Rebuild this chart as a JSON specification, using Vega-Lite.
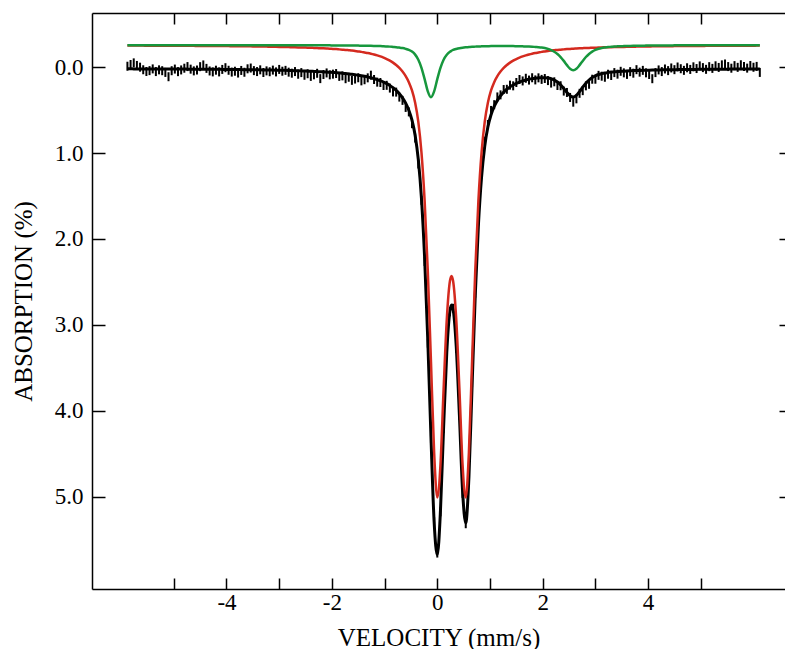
{
"$schema": "https://vega.github.io/schema/vega-lite/v6.json",
"width": 693, "height": 576,
"autosize": "none",
"padding": {"left": 92, "top": 13, "right": 0, "bottom": 60},
"config": {
 "view": {"stroke": null},
 "axis": {"grid": false, "domainColor": "#000", "domainWidth": 1.5, "tickColor": "#000", "tickWidth": 1.5, "labelColor": "#000", "titleColor": "#000", "labelFont": "Liberation Serif", "titleFont": "Liberation Serif", "labelFontSize": 23, "titleFontSize": 25, "titleFontWeight": "normal", "labelOverlap": false}
},
"data": {"values": [
{"v":-5.88,"fit":0.021,"obs":-0.009,"red":-0.249,"green":-0.254},
{"v":-5.82,"fit":0.021,"obs":-0.029,"red":-0.249,"green":-0.254},
{"v":-5.76,"fit":0.022,"obs":-0.048,"red":-0.249,"green":-0.254},
{"v":-5.70,"fit":0.022,"obs":-0.018,"red":-0.249,"green":-0.254},
{"v":-5.64,"fit":0.022,"obs":0.002,"red":-0.249,"green":-0.254},
{"v":-5.58,"fit":0.022,"obs":0.032,"red":-0.249,"green":-0.254},
{"v":-5.52,"fit":0.022,"obs":0.052,"red":-0.248,"green":-0.254},
{"v":-5.46,"fit":0.022,"obs":0.042,"red":-0.248,"green":-0.254},
{"v":-5.40,"fit":0.022,"obs":0.022,"red":-0.248,"green":-0.254},
{"v":-5.34,"fit":0.023,"obs":0.053,"red":-0.248,"green":-0.254},
{"v":-5.28,"fit":0.023,"obs":0.033,"red":-0.248,"green":-0.254},
{"v":-5.22,"fit":0.023,"obs":0.043,"red":-0.248,"green":-0.254},
{"v":-5.16,"fit":0.023,"obs":0.063,"red":-0.248,"green":-0.254},
{"v":-5.10,"fit":0.023,"obs":0.113,"red":-0.248,"green":-0.254},
{"v":-5.04,"fit":0.023,"obs":0.043,"red":-0.247,"green":-0.254},
{"v":-4.98,"fit":0.024,"obs":0.024,"red":-0.247,"green":-0.254},
{"v":-4.92,"fit":0.024,"obs":0.054,"red":-0.247,"green":-0.254},
{"v":-4.86,"fit":0.024,"obs":0.034,"red":-0.247,"green":-0.254},
{"v":-4.80,"fit":0.024,"obs":0.014,"red":-0.246,"green":-0.254},
{"v":-4.74,"fit":0.025,"obs":-0.005,"red":-0.246,"green":-0.254},
{"v":-4.68,"fit":0.025,"obs":0.025,"red":-0.246,"green":-0.254},
{"v":-4.62,"fit":0.025,"obs":0.045,"red":-0.246,"green":-0.254},
{"v":-4.56,"fit":0.025,"obs":0.035,"red":-0.245,"green":-0.254},
{"v":-4.50,"fit":0.026,"obs":-0.004,"red":-0.245,"green":-0.254},
{"v":-4.44,"fit":0.026,"obs":-0.024,"red":-0.245,"green":-0.254},
{"v":-4.38,"fit":0.026,"obs":0.016,"red":-0.245,"green":-0.254},
{"v":-4.32,"fit":0.026,"obs":0.046,"red":-0.244,"green":-0.254},
{"v":-4.26,"fit":0.027,"obs":0.057,"red":-0.244,"green":-0.254},
{"v":-4.20,"fit":0.027,"obs":0.037,"red":-0.244,"green":-0.254},
{"v":-4.14,"fit":0.027,"obs":0.057,"red":-0.244,"green":-0.254},
{"v":-4.08,"fit":0.028,"obs":0.028,"red":-0.243,"green":-0.254},
{"v":-4.02,"fit":0.028,"obs":0.008,"red":-0.243,"green":-0.254},
{"v":-3.96,"fit":0.028,"obs":0.038,"red":-0.243,"green":-0.254},
{"v":-3.90,"fit":0.029,"obs":0.059,"red":-0.242,"green":-0.254},
{"v":-3.84,"fit":0.029,"obs":0.049,"red":-0.242,"green":-0.254},
{"v":-3.78,"fit":0.030,"obs":0.070,"red":-0.241,"green":-0.254},
{"v":-3.72,"fit":0.030,"obs":0.040,"red":-0.241,"green":-0.254},
{"v":-3.66,"fit":0.031,"obs":0.061,"red":-0.240,"green":-0.254},
{"v":-3.60,"fit":0.031,"obs":0.021,"red":-0.240,"green":-0.254},
{"v":-3.54,"fit":0.032,"obs":0.012,"red":-0.240,"green":-0.254},
{"v":-3.48,"fit":0.032,"obs":0.042,"red":-0.239,"green":-0.254},
{"v":-3.42,"fit":0.033,"obs":0.053,"red":-0.238,"green":-0.254},
{"v":-3.36,"fit":0.033,"obs":0.033,"red":-0.238,"green":-0.254},
{"v":-3.30,"fit":0.034,"obs":0.064,"red":-0.237,"green":-0.254},
{"v":-3.24,"fit":0.035,"obs":0.045,"red":-0.237,"green":-0.254},
{"v":-3.18,"fit":0.035,"obs":0.055,"red":-0.236,"green":-0.253},
{"v":-3.12,"fit":0.036,"obs":0.036,"red":-0.236,"green":-0.253},
{"v":-3.06,"fit":0.037,"obs":0.057,"red":-0.235,"green":-0.253},
{"v":-3.00,"fit":0.038,"obs":0.028,"red":-0.234,"green":-0.253},
{"v":-2.94,"fit":0.039,"obs":0.049,"red":-0.233,"green":-0.253},
{"v":-2.88,"fit":0.039,"obs":0.039,"red":-0.233,"green":-0.253},
{"v":-2.82,"fit":0.040,"obs":0.060,"red":-0.232,"green":-0.253},
{"v":-2.76,"fit":0.042,"obs":0.072,"red":-0.230,"green":-0.253},
{"v":-2.70,"fit":0.043,"obs":0.053,"red":-0.229,"green":-0.253},
{"v":-2.64,"fit":0.044,"obs":0.084,"red":-0.228,"green":-0.253},
{"v":-2.58,"fit":0.045,"obs":0.065,"red":-0.227,"green":-0.253},
{"v":-2.52,"fit":0.046,"obs":0.096,"red":-0.226,"green":-0.253},
{"v":-2.46,"fit":0.048,"obs":0.078,"red":-0.225,"green":-0.253},
{"v":-2.40,"fit":0.049,"obs":0.109,"red":-0.223,"green":-0.252},
{"v":-2.34,"fit":0.051,"obs":0.091,"red":-0.222,"green":-0.252},
{"v":-2.28,"fit":0.053,"obs":0.073,"red":-0.220,"green":-0.252},
{"v":-2.22,"fit":0.055,"obs":0.135,"red":-0.219,"green":-0.252},
{"v":-2.16,"fit":0.057,"obs":0.087,"red":-0.217,"green":-0.252},
{"v":-2.10,"fit":0.059,"obs":0.069,"red":-0.215,"green":-0.252},
{"v":-2.04,"fit":0.061,"obs":0.091,"red":-0.213,"green":-0.252},
{"v":-1.98,"fit":0.063,"obs":0.083,"red":-0.210,"green":-0.251},
{"v":-1.92,"fit":0.066,"obs":0.076,"red":-0.208,"green":-0.251},
{"v":-1.86,"fit":0.069,"obs":0.109,"red":-0.205,"green":-0.251},
{"v":-1.80,"fit":0.073,"obs":0.103,"red":-0.202,"green":-0.251},
{"v":-1.74,"fit":0.076,"obs":0.136,"red":-0.199,"green":-0.250},
{"v":-1.68,"fit":0.080,"obs":0.120,"red":-0.195,"green":-0.250},
{"v":-1.62,"fit":0.085,"obs":0.155,"red":-0.191,"green":-0.250},
{"v":-1.56,"fit":0.090,"obs":0.140,"red":-0.186,"green":-0.249},
{"v":-1.50,"fit":0.095,"obs":0.125,"red":-0.181,"green":-0.249},
{"v":-1.44,"fit":0.101,"obs":0.161,"red":-0.176,"green":-0.248},
{"v":-1.38,"fit":0.108,"obs":0.148,"red":-0.169,"green":-0.248},
{"v":-1.32,"fit":0.116,"obs":0.126,"red":-0.162,"green":-0.247},
{"v":-1.26,"fit":0.125,"obs":0.095,"red":-0.154,"green":-0.246},
{"v":-1.20,"fit":0.135,"obs":0.145,"red":-0.145,"green":-0.245},
{"v":-1.14,"fit":0.146,"obs":0.176,"red":-0.135,"green":-0.244},
{"v":-1.08,"fit":0.160,"obs":0.180,"red":-0.123,"green":-0.243},
{"v":-1.02,"fit":0.175,"obs":0.215,"red":-0.109,"green":-0.241},
{"v":-0.96,"fit":0.193,"obs":0.213,"red":-0.093,"green":-0.239},
{"v":-0.90,"fit":0.215,"obs":0.245,"red":-0.074,"green":-0.237},
{"v":-0.84,"fit":0.240,"obs":0.290,"red":-0.051,"green":-0.234},
{"v":-0.78,"fit":0.272,"obs":0.292,"red":-0.023,"green":-0.231},
{"v":-0.72,"fit":0.310,"obs":0.350,"red":0.011,"green":-0.226},
{"v":-0.66,"fit":0.358,"obs":0.388,"red":0.053,"green":-0.220},
{"v":-0.60,"fit":0.420,"obs":0.470,"red":0.106,"green":-0.211},
{"v":-0.54,"fit":0.502,"obs":0.522,"red":0.176,"green":-0.199},
{"v":-0.48,"fit":0.619,"obs":0.659,"red":0.273,"green":-0.179},
{"v":-0.42,"fit":0.796,"obs":0.826,"red":0.415,"green":-0.144},
{"v":-0.36,"fit":1.078,"obs":1.128,"red":0.638,"green":-0.085},
{"v":-0.30,"fit":1.530,"obs":1.550,"red":0.996,"green":0.009},
{"v":-0.24,"fit":2.222,"obs":2.262,"red":1.556,"green":0.141},
{"v":-0.18,"fit":3.181,"obs":3.211,"red":2.373,"green":0.283},
{"v":-0.12,"fit":4.300,"obs":4.320,"red":3.423,"green":0.352},
{"v":-0.06,"fit":5.288,"obs":5.288,"red":4.480,"green":0.283},
{"v":0.00,"fit":5.672,"obs":5.652,"red":5.005,"green":0.141},
{"v":0.06,"fit":5.162,"obs":5.172,"red":4.627,"green":0.010},
{"v":0.12,"fit":4.186,"obs":4.206,"red":3.746,"green":-0.085},
{"v":0.18,"fit":3.319,"obs":3.299,"red":2.938,"green":-0.143},
{"v":0.24,"fit":2.836,"obs":2.846,"red":2.489,"green":-0.178},
{"v":0.27,"fit":2.767,"obs":null,"red":2.431,"green":-0.189},
{"v":0.30,"fit":2.816,"obs":2.806,"red":2.489,"green":-0.198},
{"v":0.36,"fit":3.253,"obs":3.273,"red":2.938,"green":-0.210},
{"v":0.42,"fit":4.052,"obs":4.052,"red":3.746,"green":-0.219},
{"v":0.48,"fit":4.928,"obs":4.958,"red":4.627,"green":-0.225},
{"v":0.54,"fit":5.301,"obs":5.311,"red":5.005,"green":-0.229},
{"v":0.60,"fit":4.773,"obs":4.753,"red":4.480,"green":-0.232},
{"v":0.66,"fit":3.713,"obs":3.673,"red":3.424,"green":-0.235},
{"v":0.72,"fit":2.660,"obs":2.630,"red":2.373,"green":-0.237},
{"v":0.78,"fit":1.842,"obs":1.792,"red":1.556,"green":-0.239},
{"v":0.84,"fit":1.281,"obs":1.241,"red":0.996,"green":-0.240},
{"v":0.90,"fit":0.922,"obs":0.862,"red":0.638,"green":-0.241},
{"v":0.96,"fit":0.698,"obs":0.668,"red":0.415,"green":-0.242},
{"v":1.02,"fit":0.555,"obs":0.505,"red":0.273,"green":-0.243},
{"v":1.08,"fit":0.458,"obs":0.438,"red":0.176,"green":-0.243},
{"v":1.14,"fit":0.388,"obs":0.348,"red":0.106,"green":-0.243},
{"v":1.20,"fit":0.334,"obs":0.324,"red":0.053,"green":-0.243},
{"v":1.26,"fit":0.292,"obs":0.262,"red":0.011,"green":-0.243},
{"v":1.32,"fit":0.259,"obs":0.259,"red":-0.023,"green":-0.243},
{"v":1.38,"fit":0.231,"obs":0.211,"red":-0.051,"green":-0.243},
{"v":1.44,"fit":0.209,"obs":0.219,"red":-0.074,"green":-0.243},
{"v":1.50,"fit":0.190,"obs":0.180,"red":-0.093,"green":-0.242},
{"v":1.56,"fit":0.175,"obs":0.145,"red":-0.109,"green":-0.241},
{"v":1.62,"fit":0.162,"obs":0.162,"red":-0.123,"green":-0.240},
{"v":1.68,"fit":0.151,"obs":0.131,"red":-0.135,"green":-0.239},
{"v":1.74,"fit":0.142,"obs":0.152,"red":-0.145,"green":-0.238},
{"v":1.80,"fit":0.135,"obs":0.125,"red":-0.154,"green":-0.236},
{"v":1.86,"fit":0.130,"obs":0.150,"red":-0.162,"green":-0.233},
{"v":1.92,"fit":0.126,"obs":0.126,"red":-0.169,"green":-0.230},
{"v":1.98,"fit":0.124,"obs":0.144,"red":-0.176,"green":-0.226},
{"v":2.04,"fit":0.124,"obs":0.134,"red":-0.181,"green":-0.220},
{"v":2.10,"fit":0.128,"obs":0.158,"red":-0.186,"green":-0.211},
{"v":2.16,"fit":0.137,"obs":0.187,"red":-0.191,"green":-0.197},
{"v":2.22,"fit":0.152,"obs":0.172,"red":-0.195,"green":-0.178},
{"v":2.28,"fit":0.175,"obs":0.215,"red":-0.199,"green":-0.151},
{"v":2.34,"fit":0.208,"obs":0.218,"red":-0.202,"green":-0.115},
{"v":2.40,"fit":0.250,"obs":0.280,"red":-0.205,"green":-0.071},
{"v":2.46,"fit":0.296,"obs":0.296,"red":-0.208,"green":-0.022},
{"v":2.52,"fit":0.334,"obs":0.354,"red":-0.210,"green":0.020},
{"v":2.58,"fit":0.349,"obs":0.409,"red":-0.213,"green":0.037},
{"v":2.64,"fit":0.330,"obs":0.370,"red":-0.215,"green":0.020},
{"v":2.70,"fit":0.286,"obs":0.306,"red":-0.217,"green":-0.022},
{"v":2.76,"fit":0.235,"obs":0.275,"red":-0.219,"green":-0.071},
{"v":2.82,"fit":0.189,"obs":0.219,"red":-0.221,"green":-0.116},
{"v":2.88,"fit":0.151,"obs":0.201,"red":-0.222,"green":-0.152},
{"v":2.94,"fit":0.122,"obs":0.142,"red":-0.224,"green":-0.179},
{"v":3.00,"fit":0.102,"obs":0.142,"red":-0.225,"green":-0.198},
{"v":3.06,"fit":0.087,"obs":0.097,"red":-0.226,"green":-0.212},
{"v":3.12,"fit":0.077,"obs":0.107,"red":-0.228,"green":-0.221},
{"v":3.18,"fit":0.069,"obs":0.119,"red":-0.229,"green":-0.227},
{"v":3.24,"fit":0.064,"obs":0.084,"red":-0.230,"green":-0.232},
{"v":3.30,"fit":0.059,"obs":0.099,"red":-0.231,"green":-0.235},
{"v":3.36,"fit":0.055,"obs":0.065,"red":-0.232,"green":-0.238},
{"v":3.42,"fit":0.053,"obs":0.083,"red":-0.233,"green":-0.240},
{"v":3.48,"fit":0.050,"obs":0.050,"red":-0.233,"green":-0.242},
{"v":3.54,"fit":0.048,"obs":0.068,"red":-0.234,"green":-0.243},
{"v":3.60,"fit":0.046,"obs":0.086,"red":-0.235,"green":-0.244},
{"v":3.66,"fit":0.044,"obs":0.054,"red":-0.236,"green":-0.245},
{"v":3.72,"fit":0.042,"obs":0.072,"red":-0.236,"green":-0.246},
{"v":3.78,"fit":0.041,"obs":0.031,"red":-0.237,"green":-0.247},
{"v":3.84,"fit":0.040,"obs":0.060,"red":-0.238,"green":-0.248},
{"v":3.90,"fit":0.039,"obs":0.039,"red":-0.238,"green":-0.248},
{"v":3.96,"fit":0.038,"obs":0.068,"red":-0.239,"green":-0.249},
{"v":4.02,"fit":0.037,"obs":0.087,"red":-0.239,"green":-0.249},
{"v":4.08,"fit":0.036,"obs":0.136,"red":-0.240,"green":-0.250},
{"v":4.14,"fit":0.035,"obs":0.065,"red":-0.240,"green":-0.250},
{"v":4.20,"fit":0.034,"obs":0.034,"red":-0.241,"green":-0.250},
{"v":4.26,"fit":0.033,"obs":0.053,"red":-0.241,"green":-0.251},
{"v":4.32,"fit":0.033,"obs":0.023,"red":-0.242,"green":-0.251},
{"v":4.38,"fit":0.032,"obs":0.042,"red":-0.242,"green":-0.251},
{"v":4.44,"fit":0.031,"obs":0.011,"red":-0.242,"green":-0.251},
{"v":4.50,"fit":0.031,"obs":0.031,"red":-0.243,"green":-0.252},
{"v":4.56,"fit":0.030,"obs":0.000,"red":-0.243,"green":-0.252},
{"v":4.62,"fit":0.030,"obs":0.020,"red":-0.243,"green":-0.252},
{"v":4.68,"fit":0.029,"obs":0.039,"red":-0.244,"green":-0.252},
{"v":4.74,"fit":0.029,"obs":0.009,"red":-0.244,"green":-0.252},
{"v":4.80,"fit":0.028,"obs":0.028,"red":-0.244,"green":-0.252},
{"v":4.86,"fit":0.028,"obs":-0.002,"red":-0.245,"green":-0.253},
{"v":4.92,"fit":0.028,"obs":0.018,"red":-0.245,"green":-0.253},
{"v":4.98,"fit":0.027,"obs":-0.013,"red":-0.245,"green":-0.253},
{"v":5.04,"fit":0.027,"obs":0.007,"red":-0.245,"green":-0.253},
{"v":5.10,"fit":0.027,"obs":0.027,"red":-0.246,"green":-0.253},
{"v":5.16,"fit":0.026,"obs":-0.004,"red":-0.246,"green":-0.253},
{"v":5.22,"fit":0.026,"obs":0.016,"red":-0.246,"green":-0.253},
{"v":5.28,"fit":0.026,"obs":-0.014,"red":-0.246,"green":-0.253},
{"v":5.34,"fit":0.025,"obs":0.005,"red":-0.246,"green":-0.253},
{"v":5.40,"fit":0.025,"obs":-0.025,"red":-0.247,"green":-0.253},
{"v":5.46,"fit":0.025,"obs":-0.035,"red":-0.247,"green":-0.253},
{"v":5.52,"fit":0.025,"obs":-0.005,"red":-0.247,"green":-0.253},
{"v":5.58,"fit":0.024,"obs":0.014,"red":-0.247,"green":-0.253},
{"v":5.64,"fit":0.024,"obs":-0.016,"red":-0.247,"green":-0.253},
{"v":5.70,"fit":0.024,"obs":0.004,"red":-0.248,"green":-0.253},
{"v":5.76,"fit":0.024,"obs":-0.026,"red":-0.248,"green":-0.253},
{"v":5.82,"fit":0.024,"obs":-0.006,"red":-0.248,"green":-0.254},
{"v":5.88,"fit":0.023,"obs":0.013,"red":-0.248,"green":-0.254},
{"v":5.94,"fit":0.023,"obs":-0.017,"red":-0.248,"green":-0.254},
{"v":6.00,"fit":0.023,"obs":0.003,"red":-0.248,"green":-0.254},
{"v":6.06,"fit":0.023,"obs":-0.007,"red":-0.249,"green":-0.254},
{"v":6.12,"fit":0.023,"obs":0.063,"red":-0.249,"green":-0.254}
]},
"resolve": {"axis": {"x": "independent", "y": "independent"}},
"layer": [
 {
  "mark": {"type": "tick", "orient": "vertical", "size": 9, "thickness": 2, "color": "#000", "opacity": 1},
  "encoding": {
   "x": {"field": "v", "type": "quantitative", "scale": {"domain": [-6.552, 6.598], "nice": false, "zero": false},
     "axis": {"orient": "bottom", "values": [-5,-4,-3,-2,-1,0,1,2,3,4,5], "tickSize": -11, "labelExpr": "datum.value % 2 === 0 ? '' + datum.value : ''", "labelPadding": 13, "labelFlush": false, "title": "VELOCITY (mm/s)", "titlePadding": 11}},
   "y": {"field": "obs", "type": "quantitative", "scale": {"domain": [-0.628, 6.07], "reverse": true, "nice": false, "zero": false},
     "axis": {"orient": "left", "values": [0,1,2,3,4,5], "format": ".1f", "tickSize": -13, "labelPadding": 22, "title": "ABSORPTION (%)", "titlePadding": 18}}
  }
 },
 {
  "mark": {"type": "line", "color": "#000", "strokeWidth": 3, "interpolate": "monotone"},
  "encoding": {
   "x": {"field": "v", "type": "quantitative", "scale": {"domain": [-6.552, 6.598], "nice": false, "zero": false},
     "axis": {"orient": "top", "values": [-5,-4,-3,-2,-1,0,1,2,3,4,5], "tickSize": -11, "labels": false, "title": null}},
   "y": {"field": "fit", "type": "quantitative", "scale": {"domain": [-0.628, 6.07], "reverse": true, "nice": false, "zero": false},
     "axis": {"orient": "right", "values": [0,1,2,3,4,5], "tickSize": -6, "labels": false, "domain": false, "title": null}}
  }
 },
 {
  "mark": {"type": "line", "color": "#d42a1f", "strokeWidth": 2.5, "interpolate": "monotone"},
  "encoding": {
   "x": {"field": "v", "type": "quantitative", "scale": {"domain": [-6.552, 6.598], "nice": false, "zero": false}, "axis": null},
   "y": {"field": "red", "type": "quantitative", "scale": {"domain": [-0.628, 6.07], "reverse": true, "nice": false, "zero": false}, "axis": null}
  }
 },
 {
  "mark": {"type": "line", "color": "#17973d", "strokeWidth": 2.5, "interpolate": "monotone"},
  "encoding": {
   "x": {"field": "v", "type": "quantitative", "scale": {"domain": [-6.552, 6.598], "nice": false, "zero": false}, "axis": null},
   "y": {"field": "green", "type": "quantitative", "scale": {"domain": [-0.628, 6.07], "reverse": true, "nice": false, "zero": false}, "axis": null}
  }
 }
]
}
